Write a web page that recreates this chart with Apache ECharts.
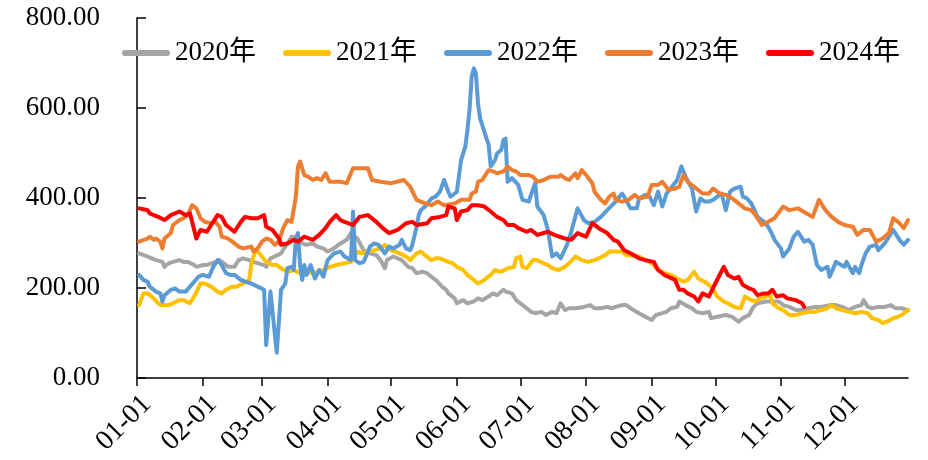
<!DOCTYPE html>
<html>
<head>
<meta charset="utf-8">
<script src="https://cdn.jsdelivr.net/npm/echarts@6/dist/echarts.min.js"></script>
<style>
  html, body { margin: 0; padding: 0; background: #fff; }
  #chart { width: 928px; height: 460px; }
</style>
</head>
<body>
<div id="chart"></div>
<script>
// 图例名称
const seriesNames = ['2020年', '2021年', '2022年', '2023年', '2024年'];
const seriesColors = ['#A5A5A5', '#FFC000', '#5B9BD5', '#ED7D31', '#FF0000'];

// x 轴：一年中的日期 MM-DD
const dayLabels = [];
for (let m = 0; m < 12; m++) {
  const n = new Date(2023, m + 1, 0).getDate();
  for (let d = 1; d <= n; d++) {
    dayLabels.push(String(m + 1).padStart(2, '0') + '-' + String(d).padStart(2, '0'));
  }
}

// y 轴刻度
const yTicks = [0, 200, 400, 600, 800];

// 各年数据：[日期序号, 数值]
const s2020 = [[1,277],[5,270],[7,266],[9,262],[12,258],[13,247],[15,255],[17,258],[20,262],[22,258],[24,258],[27,251],[28,247],[31,251],[33,251],[35,255],[38,258],[39,262],[41,255],[43,247],[46,247],[48,262],[50,266],[53,262],[55,258],[57,255],[60,251],[61,247],[63,266],[65,270],[68,277],[70,292],[71,299],[73,314],[76,310],[78,299],[80,296],[83,299],[85,292],[88,288],[90,281],[93,288],[96,299],[99,307],[101,322],[104,310],[107,284],[110,277],[113,273],[115,262],[117,244],[118,262],[121,270],[123,266],[125,262],[128,247],[130,244],[132,233],[135,236],[137,233],[140,221],[141,218],[144,203],[146,196],[147,188],[150,177],[151,166],[154,173],[156,166],[159,170],[161,177],[163,173],[166,181],[168,188],[170,184],[173,196],[174,192],[177,188],[179,173],[181,166],[184,155],[186,147],[188,144],[191,147],[193,140],[196,147],[198,144],[200,166],[202,151],[204,155],[207,155],[211,158],[214,162],[216,155],[219,155],[222,158],[224,155],[226,158],[229,162],[231,162],[233,155],[237,144],[240,136],[243,129],[245,140],[248,144],[250,147],[252,155],[255,158],[256,170],[259,162],[262,155],[264,147],[267,144],[270,147],[271,133],[274,136],[278,140],[281,136],[284,125],[286,133],[289,140],[291,158],[293,166],[297,170],[300,170],[303,170],[305,162],[308,158],[311,151],[314,151],[317,155],[320,158],[323,158],[327,162],[330,162],[333,158],[336,151],[339,158],[342,162],[343,173],[345,158],[347,155],[350,158],[353,158],[356,162],[358,155],[361,155],[364,151]];

const s2021 = [[1,162],[3,188],[5,188],[8,177],[10,166],[12,162],[15,162],[17,166],[20,173],[22,173],[25,166],[27,181],[30,210],[32,210],[35,203],[38,192],[40,188],[42,196],[45,203],[47,203],[50,210],[53,218],[54,255],[56,284],[57,281],[59,270],[61,258],[64,251],[66,251],[68,244],[71,236],[74,240],[77,233],[80,236],[83,233],[85,236],[88,240],[91,247],[94,251],[98,255],[101,258],[102,266],[104,281],[106,277],[109,281],[112,284],[115,288],[117,296],[120,284],[122,281],[124,277],[127,270],[129,262],[132,277],[134,281],[136,273],[139,262],[141,266],[143,266],[147,258],[149,255],[151,247],[154,240],[156,229],[159,218],[161,210],[164,218],[167,229],[169,240],[172,236],[175,244],[178,247],[179,266],[181,270],[182,247],[184,244],[187,262],[189,262],[192,255],[194,251],[196,244],[199,240],[202,247],[204,255],[207,270],[210,262],[213,258],[216,262],[218,266],[221,273],[223,281],[226,281],[229,281],[231,273],[233,273],[237,270],[240,262],[243,255],[246,240],[249,233],[252,229],[255,221],[258,214],[260,218],[263,236],[265,221],[268,214],[271,203],[274,181],[277,170],[279,166],[282,158],[285,155],[287,181],[290,173],[292,170],[294,177],[297,181],[299,184],[300,166],[303,155],[305,151],[308,140],[311,140],[314,144],[317,147],[320,147],[323,151],[326,155],[328,162],[330,155],[333,151],[336,147],[339,144],[342,147],[345,144],[347,133],[350,129],[352,122],[354,125],[357,133],[359,136],[361,140],[364,151]];

const s2022 = [[1,229],[3,218],[5,214],[6,203],[9,192],[11,188],[12,170],[13,184],[16,196],[18,199],[20,192],[23,192],[25,203],[27,214],[29,225],[31,229],[34,225],[36,247],[38,262],[40,251],[42,233],[44,229],[46,229],[49,218],[51,214],[54,210],[57,203],[60,196],[61,73],[63,192],[66,56],[68,196],[70,210],[71,244],[73,247],[74,240],[75,310],[76,322],[77,251],[78,218],[79,251],[80,229],[82,251],[84,221],[86,240],[88,225],[90,262],[93,277],[96,281],[98,270],[101,262],[102,370],[103,262],[105,255],[107,258],[110,292],[112,299],[114,296],[117,277],[119,292],[121,288],[124,296],[125,307],[127,288],[129,284],[130,296],[132,336],[133,362],[134,373],[136,381],[139,399],[141,403],[143,414],[145,440],[147,414],[148,403],[150,410],[151,414],[153,484],[155,514],[156,551],[157,596],[158,670],[159,688],[160,677],[161,610],[162,577],[164,547],[166,518],[167,470],[169,484],[170,499],[172,507],[173,529],[174,532],[175,436],[177,444],[180,429],[182,396],[185,392],[186,407],[188,433],[189,381],[192,362],[194,329],[196,270],[198,277],[200,266],[203,296],[205,325],[208,377],[211,351],[213,344],[216,347],[219,358],[222,373],[226,392],[229,410],[230,403],[233,377],[236,377],[237,399],[240,407],[242,403],[244,384],[246,414],[248,381],[250,410],[252,421],[255,440],[257,470],[259,447],[262,421],[264,370],[266,399],[268,392],[270,392],[272,396],[275,407],[276,410],[278,373],[280,414],[282,421],[285,425],[286,403],[288,399],[290,388],[293,358],[296,347],[298,336],[300,318],[301,307],[304,288],[305,270],[308,288],[310,314],[312,325],[315,303],[317,307],[319,296],[321,251],[323,240],[326,247],[327,225],[330,258],[331,255],[334,247],[335,258],[338,233],[339,247],[341,233],[342,251],[344,277],[346,292],[349,296],[350,284],[353,299],[355,314],[357,329],[360,307],[362,296],[364,307]];

const s2023 = [[1,303],[5,310],[6,314],[8,307],[9,310],[11,303],[12,288],[13,310],[16,322],[17,340],[20,351],[22,355],[24,362],[26,384],[28,377],[30,355],[32,347],[35,344],[37,347],[39,336],[40,314],[43,310],[45,303],[48,292],[50,288],[54,292],[55,281],[57,288],[59,303],[61,310],[63,307],[65,296],[67,303],[69,333],[71,351],[73,347],[75,403],[76,470],[77,481],[79,451],[81,447],[83,440],[85,444],[87,440],[89,455],[91,436],[96,436],[99,433],[102,466],[109,466],[111,440],[115,436],[120,433],[126,440],[129,425],[132,396],[136,388],[139,384],[142,392],[145,384],[150,388],[153,396],[157,396],[158,410],[160,414],[161,436],[163,440],[166,462],[168,459],[170,455],[173,459],[175,470],[177,462],[179,459],[181,451],[185,451],[187,447],[189,436],[192,440],[195,447],[199,447],[200,451],[202,444],[204,440],[207,455],[208,444],[210,462],[212,451],[215,433],[216,414],[219,396],[221,388],[223,403],[225,410],[226,396],[229,392],[232,396],[235,407],[237,399],[241,403],[243,429],[246,429],[248,436],[251,418],[254,421],[256,425],[258,451],[260,436],[263,425],[267,410],[270,410],[272,421],[275,410],[278,407],[281,399],[284,388],[287,377],[290,373],[292,362],[295,340],[298,347],[301,355],[305,381],[308,373],[312,377],[316,366],[319,358],[322,396],[325,373],[328,358],[331,347],[334,340],[338,336],[340,318],[343,329],[346,329],[349,303],[352,310],[355,322],[357,355],[360,344],[362,333],[364,351]];

const s2024 = [[1,377],[3,375],[5,373],[6,366],[10,358],[13,351],[16,362],[20,370],[23,362],[25,366],[27,329],[28,310],[30,329],[33,325],[35,340],[38,362],[40,358],[42,340],[46,325],[49,347],[51,358],[54,355],[57,355],[60,362],[61,336],[64,329],[67,310],[68,296],[71,299],[74,307],[76,303],[79,314],[83,307],[86,318],[89,333],[91,347],[94,362],[96,351],[98,347],[102,340],[105,358],[109,362],[113,347],[116,333],[119,322],[123,329],[127,344],[130,347],[132,340],[137,344],[139,355],[143,358],[146,362],[147,381],[150,377],[151,351],[153,370],[156,373],[158,384],[161,384],[164,381],[167,370],[170,358],[173,351],[175,340],[178,340],[180,333],[184,325],[186,329],[189,318],[194,325],[197,318],[202,310],[205,307],[208,322],[212,314],[215,344],[218,333],[222,322],[225,307],[227,303],[230,284],[233,277],[237,266],[240,262],[244,258],[246,240],[249,229],[254,218],[256,196],[258,196],[260,188],[263,181],[265,170],[267,188],[270,181],[273,210],[277,247],[279,229],[282,221],[284,225],[286,207],[289,199],[291,196],[293,184],[296,188],[298,188],[300,196],[302,181],[305,184],[307,177],[311,173],[314,166],[315,158]];

const seriesData = [s2020, s2021, s2022, s2023, s2024];

const fontFamily = '"Liberation Serif", "Noto Sans CJK SC", serif';
const isMonthStart = (idx, val) => String(val).slice(3) === '01';

const myChart = echarts.init(document.getElementById('chart'));
const option = {
  animation: false,
  backgroundColor: '#fff',
  grid: { left: 137, right: 20, top: 18, bottom: 82, outerBoundsMode: 'none' },
  legend: {
    left: 117,
    top: 30,
    itemWidth: 48,
    itemHeight: 6,
    itemGap: 27,
    icon: 'path://M3,0 H45 A3,3 0 0 1 45,6 H3 A3,3 0 0 1 3,0 Z',
    textStyle: { fontFamily: fontFamily, fontSize: 27, color: '#000', lineHeight: 28, padding: [8, 0, 0, 0] },
    data: seriesNames
  },
  xAxis: {
    type: 'category',
    data: dayLabels,
    boundaryGap: false,
    axisLine: { lineStyle: { color: '#000', width: 1.5 } },
    axisTick: { show: true, interval: isMonthStart, inside: false, length: 8, lineStyle: { color: '#000', width: 1.5 } },
    axisLabel: {
      interval: isMonthStart,
      rotate: 45,
      margin: 12,
      verticalAlign: 'top',
      fontFamily: fontFamily,
      fontSize: 28,
      color: '#000'
    },
    splitLine: { show: false }
  },
  yAxis: {
    type: 'value',
    min: yTicks[0],
    max: yTicks[yTicks.length - 1],
    interval: 200,
    axisLine: { show: true, lineStyle: { color: '#000', width: 1.5 } },
    axisTick: { show: true, inside: true, length: 9, lineStyle: { color: '#000', width: 1.5 } },
    axisLabel: {
      margin: 37,
      fontFamily: fontFamily,
      fontSize: 27,
      color: '#000',
      formatter: (v) => v.toFixed(2)
    },
    splitLine: { show: false }
  },
  series: seriesNames.map((name, i) => ({
    name: name,
    type: 'line',
    data: seriesData[i],
    showSymbol: false,
    symbol: 'none',
    color: seriesColors[i],
    lineStyle: { width: 4, color: seriesColors[i], cap: 'round', join: 'round' },
    z: 2 + i
  }))
};
myChart.setOption(option);
</script>
</body>
</html>
